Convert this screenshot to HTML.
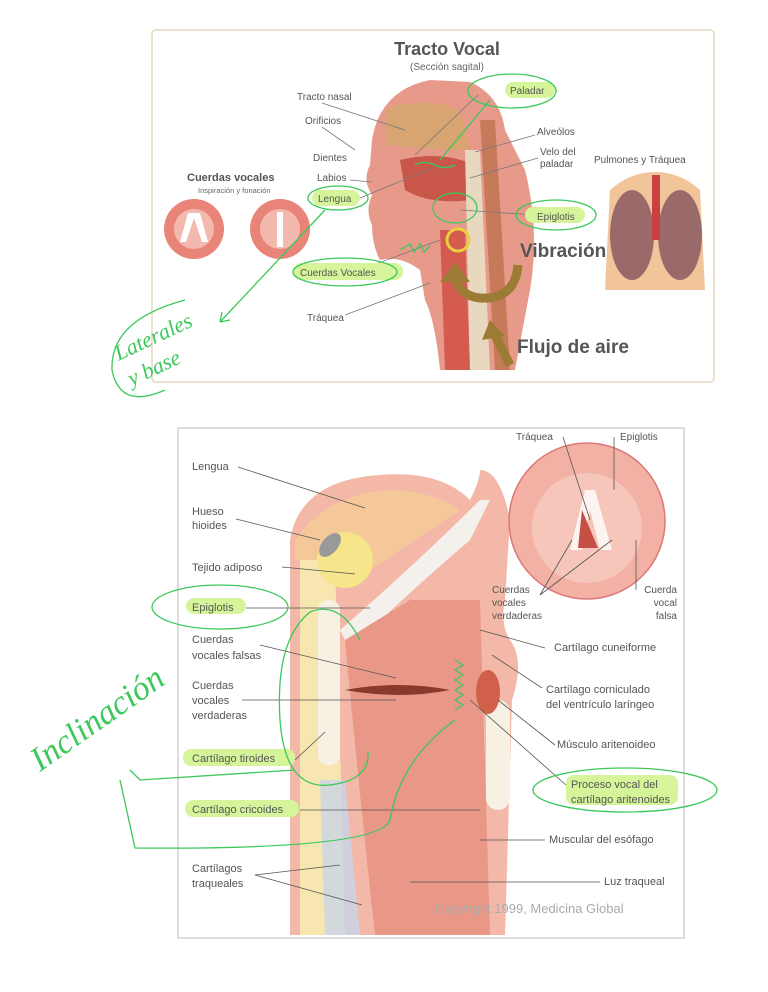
<!DOCTYPE html>
<html><head><meta charset="utf-8"><style>
html,body{margin:0;padding:0;background:#fff;}
svg{display:block;font-family:"Liberation Sans",sans-serif;}
</style></head><body>
<svg width="768" height="992" viewBox="0 0 768 992" xmlns="http://www.w3.org/2000/svg">
<!-- TOP PANEL -->
<rect x="152" y="30" width="562" height="352" rx="4" fill="#fff" stroke="#e6d9c2" stroke-width="1.5"/>
<text x="447" y="55" text-anchor="middle" font-size="18" font-weight="bold" fill="#555">Tracto Vocal</text>
<text x="447" y="70" text-anchor="middle" font-size="10" fill="#666">(Sección sagital)</text>
<!-- head -->
<path d="M372,140 Q380,90 430,80 L470,82 Q500,95 505,130 L525,170 Q540,230 530,290 L515,370 L440,370 Q435,320 425,300 L420,270 Q400,255 380,260 Q372,245 372,225 Q365,210 372,195 Q362,180 370,165 Z" fill="#e79a8a"/>
<path d="M385,110 Q420,95 460,110 L470,150 Q430,150 385,145 Z" fill="#d4a66a" opacity="0.8"/>
<path d="M400,160 Q440,150 475,165 L470,200 Q430,205 405,190 Z" fill="#c9564a"/>
<path d="M480,120 L495,120 L510,370 L495,370 Z" fill="#c77a5a"/>
<path d="M465,150 L480,150 L490,370 L470,370 Z" fill="#e8d8c0"/>
<path d="M440,230 L465,230 L470,370 L445,370 Z" fill="#d55a50"/>
<circle cx="458" cy="240" r="11" fill="none" stroke="#e8d040" stroke-width="3"/>
<!-- vocal cord circles -->
<circle cx="194" cy="229" r="30" fill="#e98478"/>
<circle cx="194" cy="229" r="20" fill="#f4b9ae"/>
<path d="M188,213 L180,242 L186,242 L194,218 L202,242 L208,242 L200,213 Z" fill="#fff"/>
<circle cx="280" cy="229" r="30" fill="#e98478"/>
<circle cx="280" cy="229" r="20" fill="#f4b9ae"/>
<path d="M277,212 L277,247 L283,247 L283,212 Z" fill="#fff"/>
<!-- lungs -->
<path d="M610,190 Q630,172 655,172 Q680,172 700,190 L705,290 L605,290 Z" fill="#f2c49a"/>
<ellipse cx="632" cy="235" rx="22" ry="45" fill="#9a6a6a"/>
<ellipse cx="680" cy="235" rx="22" ry="45" fill="#9a6a6a"/>
<path d="M652,175 L660,175 L660,240 L652,240 Z" fill="#c84040"/>
<!-- labels -->
<g font-size="10" fill="#555">
<text x="297" y="100">Tracto nasal</text>
<text x="305" y="124">Orificios</text>
<text x="313" y="161">Dientes</text>
<text x="317" y="181">Labios</text>
<text x="537" y="135">Alveólos</text>
<text x="540" y="155">Velo del</text>
<text x="540" y="167">paladar</text>
<text x="594" y="163">Pulmones y Tráquea</text>
<text x="307" y="321">Tráquea</text>
</g>
<g stroke="#777" stroke-width="0.8">
<line x1="322" y1="103" x2="405" y2="130"/><line x1="322" y1="127" x2="355" y2="150"/>
<line x1="350" y1="180" x2="372" y2="182"/><line x1="360" y1="198" x2="440" y2="165"/>
<line x1="535" y1="135" x2="475" y2="152"/><line x1="538" y1="158" x2="470" y2="178"/>
<line x1="345" y1="315" x2="430" y2="283"/><line x1="368" y1="267" x2="440" y2="240"/>
<line x1="535" y1="215" x2="460" y2="210"/><line x1="478" y1="95" x2="415" y2="155"/>
</g>
<text x="187" y="181" font-size="11" font-weight="bold" fill="#555">Cuerdas vocales</text>
<text x="198" y="193" font-size="7.5" fill="#666">Inspiración y fonación</text>
<!-- highlights -->
<g fill="#d6f59a">
<rect x="505" y="82" width="50" height="16" rx="8"/>
<rect x="312" y="190" width="48" height="16" rx="8"/>
<rect x="525" y="207" width="60" height="16" rx="8"/>
<rect x="293" y="263" width="110" height="17" rx="8"/>
</g>
<g font-size="10" fill="#555">
<text x="510" y="94">Paladar</text>
<text x="318" y="202">Lengua</text>
<text x="537" y="220">Epiglotis</text>
<text x="300" y="276">Cuerdas Vocales</text>
</g>
<text x="520" y="257" font-size="19" font-weight="bold" fill="#555">Vibración</text>
<text x="517" y="353" font-size="19" font-weight="bold" fill="#555">Flujo de aire</text>
<!-- brown arrows -->
<path d="M518,265 Q515,300 480,298 Q460,296 455,278" fill="none" stroke="#9c7b35" stroke-width="9"/>
<path d="M440,282 L455,262 L470,282 Z" fill="#9c7b35"/>
<path d="M510,365 L495,335" stroke="#9c7b35" stroke-width="9"/>
<path d="M482,340 L490,320 L505,336 Z" fill="#9c7b35"/>
<!-- green annotations top -->
<g fill="none" stroke="#3cc85a" stroke-width="1.3">
<ellipse cx="512" cy="91" rx="44" ry="17"/>
<ellipse cx="338" cy="198" rx="30" ry="12"/>
<ellipse cx="556" cy="215" rx="40" ry="15"/>
<ellipse cx="345" cy="272" rx="52" ry="14"/>
<ellipse cx="455" cy="208" rx="22" ry="15"/>
<path d="M325,210 L220,322 M220,322 L222,312 M220,322 L230,320"/>
<path d="M490,100 L440,160"/>
<path d="M400,250 L410,244 L414,252 L420,244 L424,252 L430,246"/>
<path d="M415,165 q10,-5 20,0 q10,5 20,0"/>
<path d="M185,300 Q110,320 112,370 Q120,410 165,390"/>
</g>
<text x="115" y="355" font-size="22" font-style="italic" fill="#3cc85a" font-family="Liberation Serif,serif" transform="rotate(-25 130 350)">Laterales</text>
<text x="130" y="382" font-size="22" font-style="italic" fill="#3cc85a" font-family="Liberation Serif,serif" transform="rotate(-25 140 380)">y base</text>

<!-- BOTTOM PANEL -->
<rect x="178" y="428" width="506" height="510" fill="#fff" stroke="#bbb" stroke-width="1"/>
<!-- larynx -->
<path d="M290,540 Q300,480 380,475 Q440,470 470,500 Q480,480 480,470 Q500,470 510,520 L505,600 Q500,625 510,640 Q525,660 512,700 L505,935 L290,935 Z" fill="#f3b8a8"/>
<path d="M295,540 Q330,490 400,490 Q440,495 460,510 L355,580 Q320,560 295,560 Z" fill="#f5c89a"/>
<path d="M300,560 L335,560 L345,935 L300,935 Z" fill="#f7e6b0"/>
<ellipse cx="345" cy="560" rx="28" ry="28" fill="#f6e58a"/>
<ellipse cx="330" cy="545" rx="8" ry="14" fill="#999" transform="rotate(40 330 545)"/>
<path d="M340,630 Q420,560 480,500 L490,500 L470,540 Q400,600 350,650 Z" fill="#f4f0ec"/>
<path d="M345,640 L410,600 L480,600 L490,935 L375,935 Q360,800 345,640 Z" fill="#e99888"/>
<path d="M345,690 Q400,680 450,690 Q400,700 345,690 Z" fill="#8a3a2a"/>
<rect x="318" y="600" width="22" height="165" rx="10" fill="#f6f1e2"/>
<rect x="486" y="700" width="24" height="110" rx="12" fill="#f6f1e2"/>
<ellipse cx="488" cy="692" rx="12" ry="22" fill="#d0604a"/>
<path d="M320,780 L345,780 L360,935 L325,935 Z" fill="#c9d4e8" opacity="0.8"/>
<circle cx="587" cy="521" r="78" fill="#f3b0a4" stroke="#d77" stroke-width="1.5"/>
<circle cx="587" cy="528" r="55" fill="#f6c6bb"/>
<path d="M585,490 L570,550 L582,550 L590,510 L600,550 L612,550 L595,490 Z" fill="#fff" opacity="0.8"/>
<path d="M582,510 L578,548 L598,548 Z" fill="#c55045"/>
<!-- bottom labels -->
<g font-size="11" fill="#555">
<text x="192" y="470">Lengua</text>
<text x="192" y="515">Hueso</text><text x="192" y="529">hioides</text>
<text x="192" y="571">Tejido adiposo</text>
<text x="192" y="643">Cuerdas</text><text x="192" y="659">vocales falsas</text>
<text x="192" y="689">Cuerdas</text><text x="192" y="704">vocales</text><text x="192" y="719">verdaderas</text>
<text x="192" y="872">Cartílagos</text><text x="192" y="887">traqueales</text>
<text x="516" y="440" font-size="10">Tráquea</text>
<text x="620" y="440" font-size="10">Epiglotis</text>
<text x="492" y="593" font-size="10">Cuerdas</text><text x="492" y="606" font-size="10">vocales</text><text x="492" y="619" font-size="10">verdaderas</text>
<text x="677" y="593" font-size="10" text-anchor="end">Cuerda</text><text x="677" y="606" font-size="10" text-anchor="end">vocal</text><text x="677" y="619" font-size="10" text-anchor="end">falsa</text>
<text x="554" y="651">Cartílago cuneiforme</text>
<text x="546" y="693">Cartílago corniculado</text><text x="546" y="708">del ventrículo laríngeo</text>
<text x="557" y="748">Músculo aritenoideo</text>
<text x="549" y="843">Muscular del esófago</text>
<text x="604" y="885">Luz traqueal</text>
</g>
<g fill="#d6f59a">
<rect x="186" y="598" width="60" height="16" rx="8"/>
<rect x="183" y="749" width="112" height="17" rx="8"/>
<rect x="185" y="800" width="114" height="17" rx="8"/>
<rect x="566" y="775" width="112" height="30" rx="8"/>
</g>
<g font-size="11" fill="#555">
<text x="192" y="611">Epiglotis</text>
<text x="192" y="762">Cartílago tiroides</text>
<text x="192" y="813">Cartílago cricoides</text>
<text x="571" y="788">Proceso vocal del</text><text x="571" y="803">cartílago aritenoides</text>
</g>
<text x="435" y="913" font-size="13" fill="#aaa">Copyright 1999, Medicina Global</text>
<g stroke="#555" stroke-width="0.8" fill="none">
<line x1="238" y1="467" x2="365" y2="508"/><line x1="236" y1="519" x2="320" y2="540"/>
<line x1="282" y1="567" x2="355" y2="574"/><line x1="246" y1="608" x2="370" y2="608"/>
<line x1="260" y1="645" x2="396" y2="678"/><line x1="242" y1="700" x2="396" y2="700"/>
<line x1="295" y1="760" x2="325" y2="732"/><line x1="300" y1="810" x2="480" y2="810"/>
<line x1="255" y1="875" x2="340" y2="865"/><line x1="255" y1="875" x2="362" y2="905"/>
<line x1="545" y1="648" x2="480" y2="630"/><line x1="542" y1="688" x2="492" y2="655"/>
<line x1="555" y1="745" x2="498" y2="700"/><line x1="566" y1="785" x2="470" y2="700"/>
<line x1="545" y1="840" x2="480" y2="840"/><line x1="600" y1="882" x2="410" y2="882"/>
<line x1="563" y1="437" x2="590" y2="520"/><line x1="614" y1="437" x2="614" y2="490"/>
<line x1="540" y1="595" x2="572" y2="540"/><line x1="540" y1="595" x2="612" y2="540"/>
<line x1="636" y1="590" x2="636" y2="540"/>
</g>
<!-- green annotations bottom -->
<g fill="none" stroke="#3cc85a" stroke-width="1.3">
<ellipse cx="220" cy="607" rx="68" ry="22"/>
<path d="M360,640 Q340,600 310,612 Q275,640 280,720 Q285,790 330,785 Q370,780 368,752"/>
<ellipse cx="625" cy="790" rx="92" ry="22"/>
<path d="M455,660 l8,5 l-8,5 l8,5 l-8,5 l8,5 l-8,5 l8,5 l-8,5 l8,5 l-8,5"/>
<path d="M455,720 Q400,760 390,820 Q380,850 135,848 L120,780"/>
<path d="M295,770 L140,780 L130,770"/>
</g>
<text x="40" y="772" font-size="34" font-style="italic" fill="#3cc85a" font-family="Liberation Serif,serif" transform="rotate(-35 40 772)">Inclinación</text>
</svg>
</body></html>
